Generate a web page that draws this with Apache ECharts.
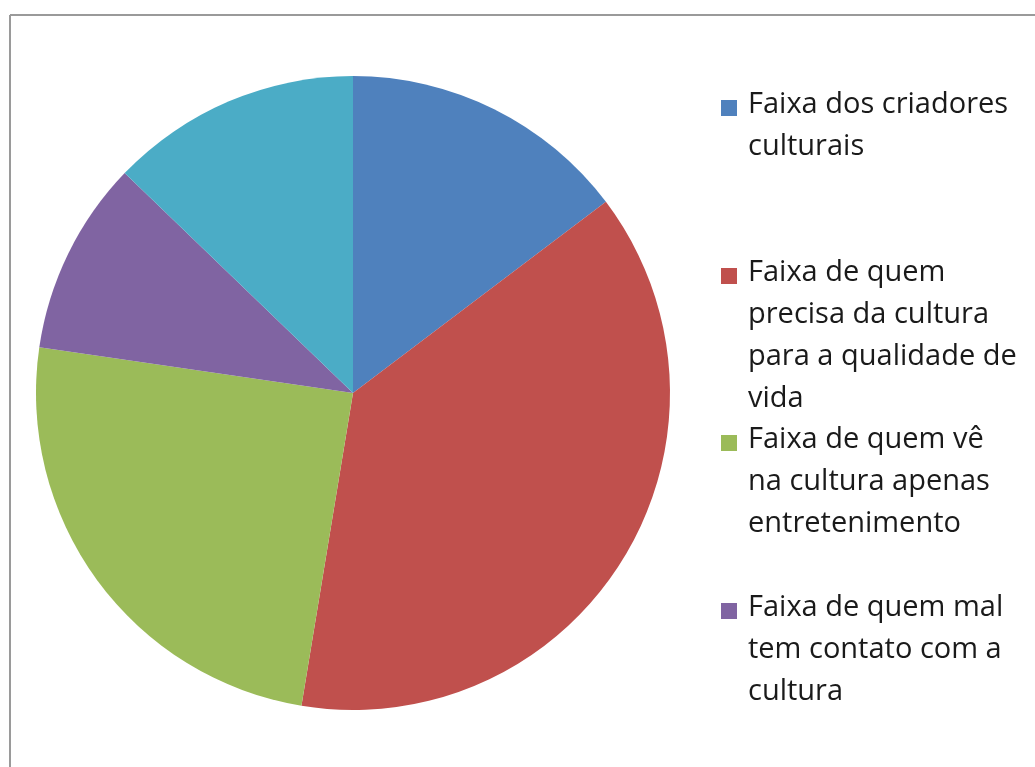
<!DOCTYPE html>
<html>
<head>
<meta charset="utf-8">
<script src="https://cdn.jsdelivr.net/npm/echarts@6/dist/echarts.min.js"></script>
<style>
  html, body { margin: 0; padding: 0; background: #ffffff; }
  #chart { width: 1035px; height: 767px; }
</style>
</head>
<body>
<div id="chart"></div>
<script>
// Categories (share of the population by relation to culture), in percent
const categories = [
  'Faixa dos criadores culturais',
  'Faixa de quem precisa da cultura para a qualidade de vida',
  'Faixa de quem vê na cultura apenas entretenimento',
  'Faixa de quem mal tem contato com a cultura',
  'Outras faixas'
];
const values = [14.7, 37.9, 24.7, 9.9, 12.8];
const colors = ['#4F81BD', '#C0504D', '#9BBB59', '#8064A2', '#4BACC6'];

// Legend lines (wrapped text) for the entries shown in the key
const legendLines = [
  ['Faixa dos criadores', 'culturais'],
  ['Faixa de quem', 'precisa da cultura', 'para a qualidade de', 'vida'],
  ['Faixa de quem vê', 'na cultura apenas', 'entretenimento'],
  ['Faixa de quem mal', 'tem contato com a', 'cultura']
];
// baseline of the first line of each legend entry
const legendBaselines = [115, 283, 450, 618];

const FONT = '"Open Sans", "Noto Sans", sans-serif';
const LINE_H = 42;

const graphics = [];
// chart frame (top and left edges)
graphics.push({
  type: 'line', silent: true,
  shape: { x1: 10, y1: 15, x2: 1035, y2: 15 },
  style: { stroke: '#9a9a9a', lineWidth: 2 }
});
graphics.push({
  type: 'line', silent: true,
  shape: { x1: 10, y1: 15, x2: 10, y2: 767 },
  style: { stroke: '#9a9a9a', lineWidth: 2 }
});

legendLines.forEach((lines, i) => {
  const base = legendBaselines[i];
  graphics.push({
    type: 'rect', silent: true,
    shape: { x: 721, y: base - 15, width: 16, height: 16 },
    style: { fill: colors[i] }
  });
  graphics.push({
    type: 'text', silent: true,
    x: 748, y: base - 31,
    style: {
      text: lines.join('\n'),
      font: '29px ' + FONT,
      fill: '#1a1a1a',
      lineHeight: LINE_H,
      verticalAlign: 'top',
      align: 'left'
    }
  });
});

const chart = echarts.init(document.getElementById('chart'), null, { renderer: 'canvas' });
chart.setOption({
  animation: false,
  backgroundColor: '#ffffff',
  color: colors,
  graphic: graphics,
  series: [{
    type: 'pie',
    center: [353, 393],
    radius: [0, 317],
    startAngle: 90,
    clockwise: true,
    label: { show: false },
    labelLine: { show: false },
    emphasis: { disabled: true },
    itemStyle: { borderWidth: 0 },
    data: categories.map((name, i) => ({ name: name, value: values[i] }))
  }]
});
</script>
</body>
</html>
